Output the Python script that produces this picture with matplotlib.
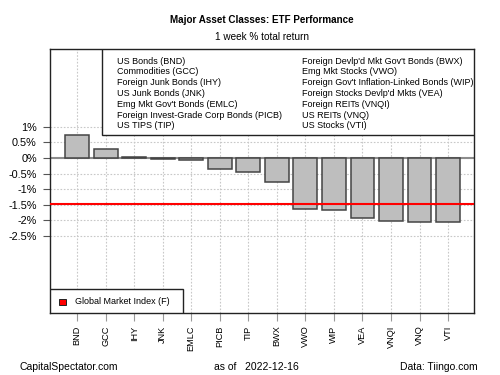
import matplotlib
matplotlib.use("Agg")
import matplotlib.pyplot as plt
from matplotlib.patches import Rectangle
import numpy as np

plt.rcParams['font.family'] = ['Liberation Sans', 'DejaVu Sans']

tickers = ["BND", "GCC", "IHY", "JNK", "EMLC", "PICB", "TIP", "BWX",
           "VWO", "WIP", "VEA", "VNQI", "VNQ", "VTI"]
returns = [0.73, 0.30, 0.03, -0.05, -0.08, -0.37, -0.46, -0.78,
           -1.64, -1.68, -1.91, -2.02, -2.05, -2.05]
gmi = -1.48
legend_left = ["US Bonds (BND)", "Commodities (GCC)", "Foreign Junk Bonds (IHY)",
               "US Junk Bonds (JNK)", "Emg Mkt Gov't Bonds (EMLC)",
               "Foreign Invest-Grade Corp Bonds (PICB)", "US TIPS (TIP)"]
legend_right = ["Foreign Devlp'd Mkt Gov't Bonds (BWX)", "Emg Mkt Stocks (VWO)",
                "Foreign Gov't Inflation-Linked Bonds (WIP)",
                "Foreign Stocks Devlp'd Mkts (VEA)", "Foreign REITs (VNQI)",
                "US REITs (VNQ)", "US Stocks (VTI)"]
yticks = [1, 0.5, 0, -0.5, -1, -1.5, -2, -2.5]
ytick_labels = ["1%", "0.5%", "0%", "-0.5%", "-1%", "-1.5%", "-2%", "-2.5%"]

fig = plt.figure(figsize=(5, 3.75), dpi=100)
ax = fig.add_axes([0.1, 0.1653, 0.848, 0.704])

x = np.arange(len(tickers))
ax.set_xlim(-0.95, len(tickers) - 1 + 0.91)
ax.set_ylim(-4.97, 3.49)

# grid
for xi in x:
    ax.axvline(xi, color="#c8c8c8", lw=0.8, ls=(0, (1.5, 1.5)), zorder=0)
for yt in yticks:
    ax.axhline(yt, color="#c8c8c8", lw=0.8, ls=(0, (1.5, 1.5)), zorder=0)

ax.axhline(0, color="#8c8c8c", lw=1.5, zorder=1)
ax.bar(x, returns, width=0.833, color="#bebebe", edgecolor="#444444", lw=1.1, zorder=2)
ax.axhline(gmi, color="#ff0000", lw=1.5, zorder=3)

ax.set_yticks(yticks)
ax.set_yticklabels(ytick_labels, fontsize=7.8)
ax.set_xticks(x)
ax.set_xticklabels(tickers, rotation=90, fontsize=6.6)
ax.tick_params(axis='y', length=5, width=0.8, color="#555555", pad=4.5)
ax.tick_params(axis='x', length=6, width=0.8, color="#999999", pad=3)
for s in ax.spines.values():
    s.set_linewidth(1.0)
    s.set_color("#222222")

# top legend box
ax.add_patch(Rectangle((0.1226, 0.674), 0.8774, 0.326, transform=ax.transAxes,
                       facecolor="white", edgecolor="#222222", lw=1.0, zorder=5))
y0 = 0.9545
dy = 0.0409
for i, t in enumerate(legend_left):
    ax.text(0.158, y0 - i * dy, t, transform=ax.transAxes, fontsize=6.5,
            va="center", ha="left", zorder=6)
for i, t in enumerate(legend_right):
    ax.text(0.594, y0 - i * dy, t, transform=ax.transAxes, fontsize=6.5,
            va="center", ha="left", zorder=6)

# bottom legend box
ax.add_patch(Rectangle((0, 0), 0.3137, 0.0909, transform=ax.transAxes,
                       facecolor="white", edgecolor="#222222", lw=1.0, zorder=5))
ax.add_patch(Rectangle((0.0205, 0.030), 0.0165, 0.024, transform=ax.transAxes,
                       facecolor="#ff0000", edgecolor="#222222", lw=0.7, zorder=6))
ax.text(0.059, 0.042, "Global Market Index (F)", transform=ax.transAxes,
        fontsize=6.5, va="center", ha="left", zorder=6)

fig.text(0.524, 1 - 20 / 375, "Major Asset Classes: ETF Performance",
         fontsize=7.1, fontweight="bold", ha="center", va="center")
fig.text(0.524, 1 - 37 / 375, "1 week % total return", fontsize=7.2,
         ha="center", va="center")
fig.text(20 / 500, 1 - 367 / 375, "CapitalSpectator.com", fontsize=7.5,
         ha="left", va="center")
fig.text(256 / 500, 1 - 367 / 375, "as of   2022-12-16", fontsize=7.5,
         ha="center", va="center")
fig.text(478 / 500, 1 - 367 / 375, "Data: Tiingo.com", fontsize=7.5,
         ha="right", va="center")

fig.savefig("out.png", dpi=100)
